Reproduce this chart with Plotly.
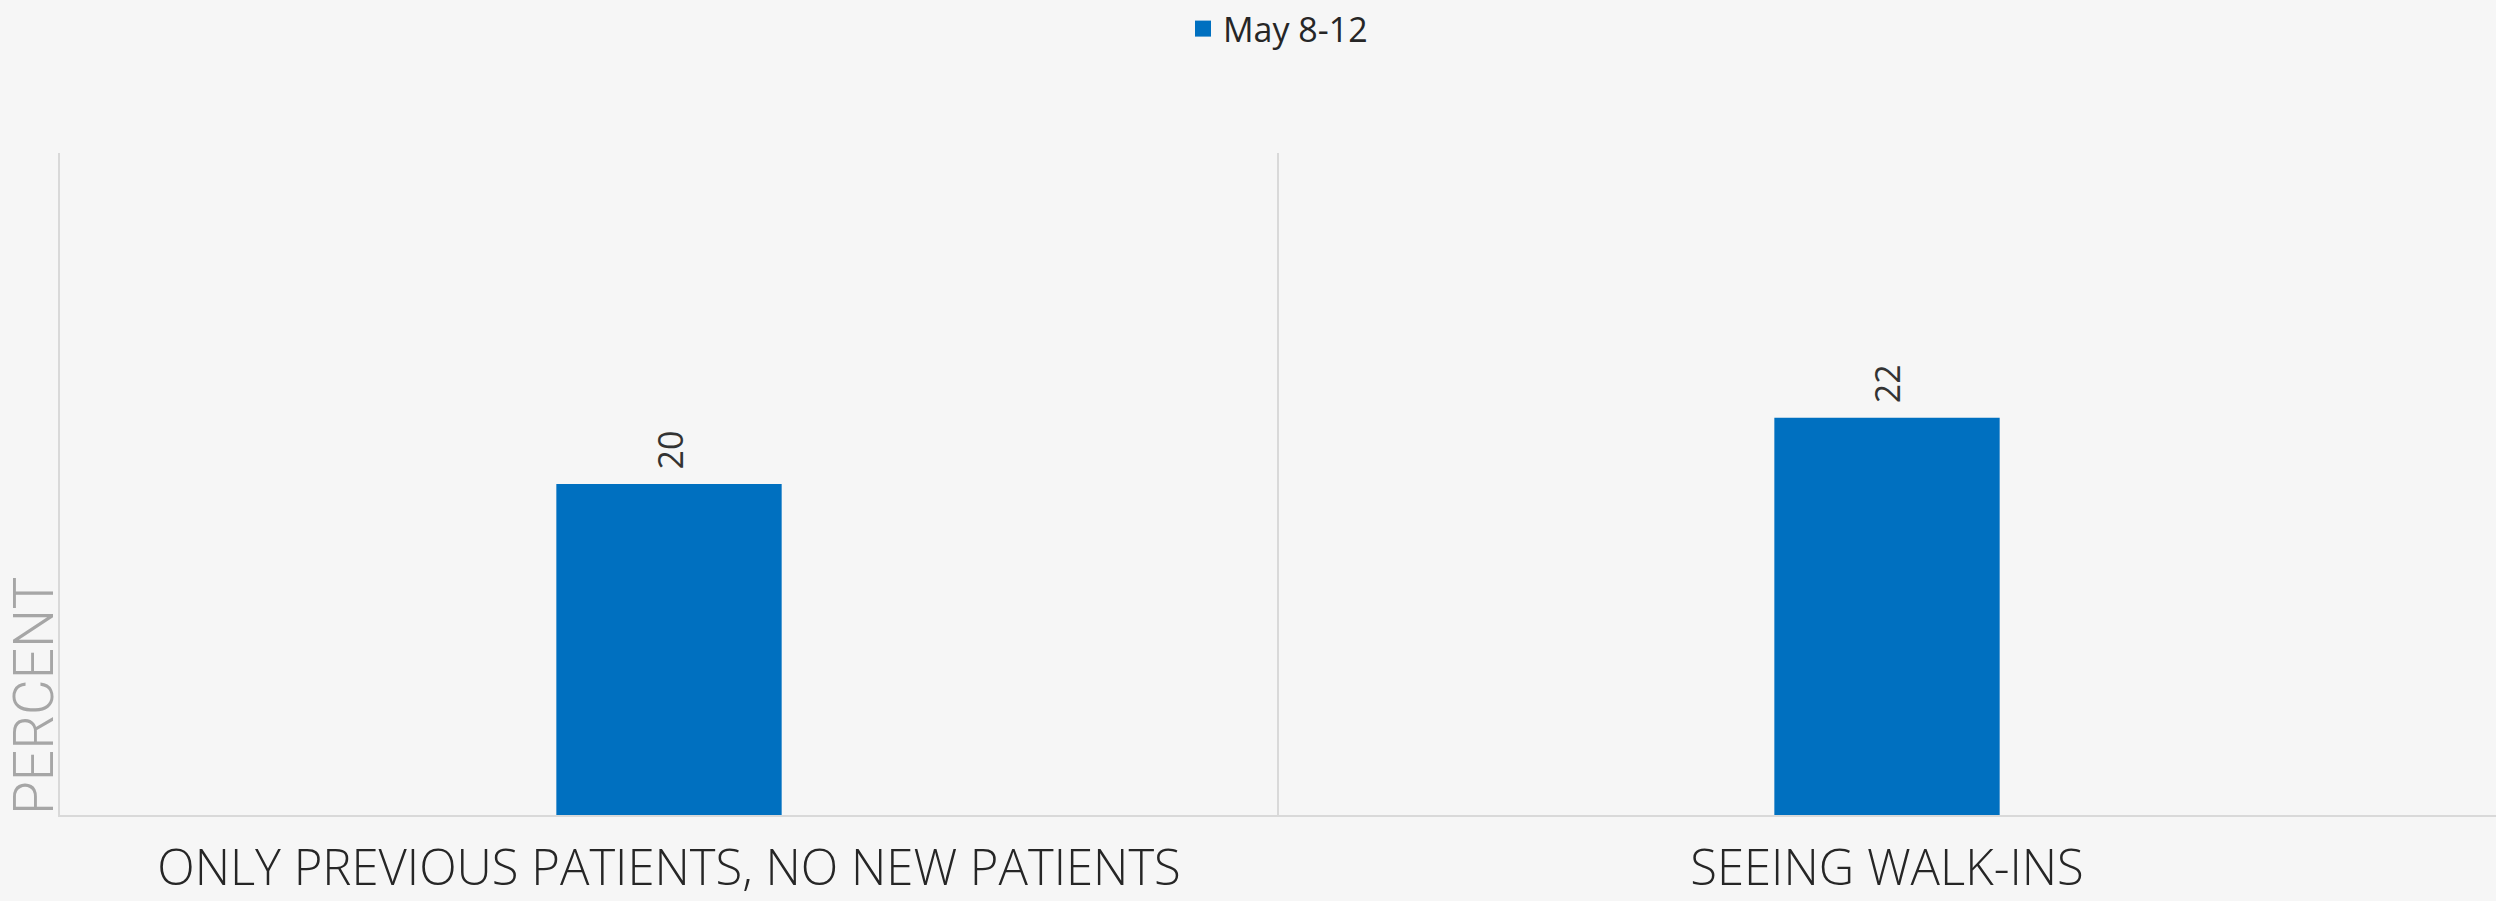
import plotly.graph_objects as go

categories = ["ONLY PREVIOUS PATIENTS, NO NEW PATIENTS", "SEEING WALK-INS"]
series_name = "May 8-12"
values = [20, 22]
y_title = "PERCENT"

FONT = "Open Sans"
BAR_COLOR = "#0070c0"

fig = go.Figure()
fig.add_trace(go.Bar(
    x=categories, y=values, name=series_name,
    marker=dict(color=BAR_COLOR, line=dict(width=0)),
    width=0.185, showlegend=False,
))
# legend-only entry with a larger square swatch
fig.add_trace(go.Scatter(
    x=[None], y=[None], name=series_name, mode="markers",
    marker=dict(symbol="square", size=20, color=BAR_COLOR),
    showlegend=True,
))

for c, v in zip(categories, values):
    fig.add_annotation(
        x=c, y=v, xref="x", yref="y", text=str(v), textangle=-90,
        showarrow=False, xanchor="center", yanchor="bottom", yshift=12,
        font=dict(family=FONT, size=34, color="#333333"),
    )

fig.add_annotation(
    text=y_title, textangle=-90, xref="paper", yref="paper",
    x=0, y=0, xanchor="left", yanchor="bottom", xshift=-60, yshift=-2,
    showarrow=False, font=dict(family="Roboto", size=55, color="#a6a6a6", weight=300),
)

fig.update_layout(
    width=2496, height=901,
    paper_bgcolor="#f6f6f6", plot_bgcolor="rgba(0,0,0,0)",
    margin=dict(l=60, r=0, t=153, b=86, autoexpand=False),
    legend=dict(orientation="h", x=0.5, xanchor="center", y=1.0, yref="container",
                yanchor="top", font=dict(family=FONT, size=34, color="#262626"),
                bgcolor="rgba(0,0,0,0)", itemsizing="trace"),
    xaxis=dict(range=[-0.5, 1.5], tickson="boundaries", showgrid=True,
               gridcolor="#d9d9d9", gridwidth=2, ticks="", showline=True,
               linecolor="#d9d9d9", linewidth=2, ticklabelstandoff=9,
               automargin=False,
               tickfont=dict(family=FONT, size=49, color="#262626", weight=300),
               zeroline=False),
    yaxis=dict(range=[10, 30], showgrid=False, showticklabels=False, ticks="",
               showline=True, linecolor="#d9d9d9", linewidth=2, zeroline=False,
               automargin=False),
)

fig.write_html("out.html", config={"displayModeBar": False},
               post_script="document.body.style.margin='0';")
